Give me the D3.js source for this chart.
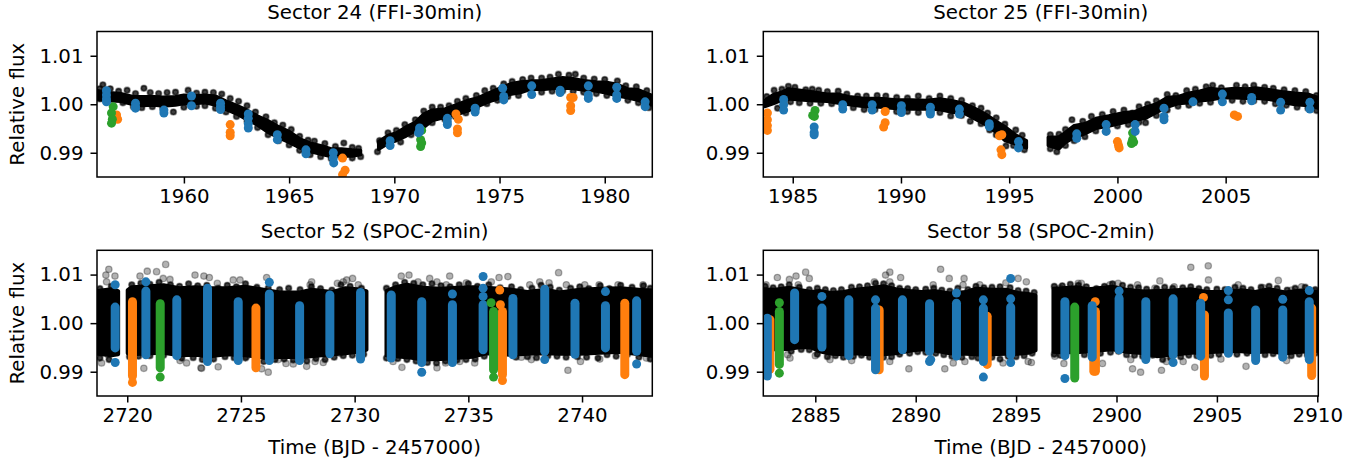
<!DOCTYPE html>
<html><head><meta charset="utf-8">
<script src="https://cdn.jsdelivr.net/npm/d3@7"></script>
<style>html,body{margin:0;padding:0;background:#fff}svg{display:block}text{font-family:"DejaVu Sans",sans-serif;fill:#000}</style>
</head><body><svg id="c" width="1365" height="463"></svg>
<script>
const titles=["Sector 24 (FFI-30min)","Sector 25 (FFI-30min)","Sector 52 (SPOC-2min)","Sector 58 (SPOC-2min)"];
const yTicks=[0.99,1.00,1.01];
const xTicks24=[1960,1965,1970,1975,1980], xTicks25=[1985,1990,1995,2000,2005];
const xTicks52=[2720,2725,2730,2735,2740], xTicks58=[2885,2890,2895,2900,2905,2910];

// dense light-curve core: [time, upper, lower]
const core24a=[[1955.87,1.0028,1.0010],[1956.5,1.0024,1.0007],[1957,1.0022,1.0006],[1957.6,1.0016,.9999],[1958,1.0016,.9997],[1958.6,1.0016,.9998],[1959,1.0015,.9996],[1959.6,1.0016,.9998],[1960,1.0019,1.0001],[1960.6,1.0018,1.0002],[1961,1.0019,1.0003],[1961.5,1.0017,.9998],[1962,1.0007,.9989],[1962.5,.9998,.9980],[1963,.9988,.9968],[1963.5,.9976,.9957],[1964,.9966,.9942],[1964.5,.9954,.9931],[1965,.9944,.9921],[1965.5,.9929,.9910],[1966,.9920,.9902],[1966.5,.9915,.9897],[1967,.9908,.9892],[1967.5,.9908,.9893],[1968,.9906,.9893],[1968.4,.9905,.9896]];
const core24b=[[1969.25,.9923,.9907],[1969.7,.9936,.9919],[1970.1,.9941,.9925],[1970.5,.9952,.9933],[1971,.9963,.9945],[1971.4,.9980,.9952],[1971.8,.9988,.9966],[1972.4,.9990,.9973],[1973,1.0000,.9979],[1973.5,1.0008,.9986],[1974,1.0014,.9996],[1974.5,1.0024,1.0005],[1975,1.0033,1.0012],[1975.5,1.0042,1.0020],[1976,1.0046,1.0024],[1976.5,1.0048,1.0031],[1977,1.0049,1.0030],[1977.5,1.0052,1.0032],[1978,1.0055,1.0033],[1978.5,1.0053,1.0032],[1979,1.0049,1.0029],[1979.6,1.0046,1.0027],[1980.1,1.0045,1.0023],[1980.6,1.0041,1.0017],[1981.1,1.0032,1.0013],[1981.6,1.0030,1.0008],[1982.26,1.0018,.9998]];
const core25a=[[1983.7,1.0008,.9995],[1984.1,1.0020,1.0001],[1984.5,1.0025,1.0008],[1984.8,1.0032,1.0011],[1985.3,1.0029,1.0009],[1986,1.0025,1.0007],[1986.6,1.0021,1.0006],[1987.1,1.0021,1.0002],[1987.6,1.0016,.9999],[1988.3,1.0012,.9995],[1989,1.0012,.9994],[1989.8,1.0009,.9991],[1990.5,1.0009,.9990],[1991.2,1.0008,.9990],[1991.8,1.0011,.9989],[1992.4,1.0007,.9983],[1992.9,1.0002,.9982],[1993.4,.9992,.9970],[1993.9,.9980,.9958],[1994.3,.9968,.9945],[1994.8,.9954,.9925],[1995.3,.9937,.9918],[1995.8,.9925,.9910]];
const core25b=[[1996.8,.9932,.9915],[1997.3,.9933,.9908],[1997.6,.9942,.9921],[1998,.9956,.9931],[1998.5,.9960,.9939],[1999,.9971,.9950],[1999.6,.9976,.9955],[2000.3,.9983,.9962],[2000.8,.9985,.9967],[2001.3,.9994,.9971],[2001.8,1.0001,.9983],[2002.3,1.0014,.9994],[2002.8,1.0016,1.0001],[2003.3,1.0023,1.0003],[2003.8,1.0027,1.0007],[2004.3,1.0033,1.0009],[2004.8,1.0030,1.0013],[2005.4,1.0033,1.0013],[2006,1.0032,1.0012],[2006.4,1.0034,1.0012],[2007,1.0030,1.0010],[2007.6,1.0026,1.0004],[2008.2,1.0023,.9999],[2008.8,1.0021,.9997],[2009.28,1.0014,.9992]];
const core52a=[[2718.67,1.0066,.9937],[2719.3,1.0070,.9934],[2719.6,1.0066,.9936]];
const core52b=[[2720.02,1.0068,.9938],[2720.2,1.0074,.9936],[2721,1.0076,.9938],[2721.6,1.0078,.9939],[2722.3,1.0072,.9934],[2723,1.0074,.9935],[2723.6,1.0072,.9932],[2724.4,1.0072,.9936],[2725.2,1.0075,.9934],[2726,1.0069,.9929],[2726.7,1.0063,.9931],[2727.6,1.0063,.9930],[2728.1,1.0069,.9932],[2729,1.0064,.9936],[2729.6,1.0072,.9938],[2730.1,1.0070,.9941],[2730.52,1.0066,.9945]];
const core52c=[[2731.4,1.0066,.9934],[2731.8,1.0074,.9932],[2732.3,1.0079,.9930],[2733,1.0073,.9925],[2733.8,1.0071,.9926],[2734.5,1.0073,.9929],[2735.2,1.0074,.9931],[2735.8,1.0073,.9938],[2736.9,1.0069,.9935],[2737.6,1.0064,.9937],[2738.4,1.0069,.9938],[2739,1.0063,.9937],[2739.9,1.0069,.9937],[2740.8,1.0071,.9939],[2741.7,1.0072,.9941],[2742.5,1.0069,.9936],[2743.09,1.0067,.9933]];
const core58a=[[2882.41,1.0070,.9945],[2883,1.0069,.9946],[2883.7,1.0073,.9947],[2884.3,1.0068,.9951],[2884.8,1.0064,.9950],[2885.2,1.0066,.9942],[2885.8,1.0062,.9937],[2886.4,1.0064,.9936],[2887,1.0069,.9938],[2887.7,1.0072,.9936],[2888.4,1.0076,.9936],[2889,1.0070,.9938],[2889.7,1.0066,.9943],[2890.3,1.0064,.9946],[2891,1.0066,.9943],[2891.7,1.0061,.9938],[2892.5,1.0064,.9937],[2893,1.0071,.9936],[2893.8,1.0069,.9936],[2894.5,1.0069,.9937],[2895.1,1.0062,.9937],[2895.6,1.0060,.9939],[2895.97,1.0057,.9944]];
const core58b=[[2896.86,1.0071,.9941],[2897.3,1.0072,.9940],[2898,1.0074,.9940],[2898.6,1.0070,.9942],[2899.8,1.0075,.9946],[2900.5,1.0069,.9941],[2901.4,1.0065,.9938],[2902,1.0066,.9932],[2902.8,1.0067,.9935],[2903.7,1.0070,.9939],[2904.5,1.0064,.9940],[2905.4,1.0064,.9942],[2906.2,1.0068,.9942],[2906.9,1.0064,.9940],[2907.6,1.0070,.9942],[2908.4,1.0063,.9938],[2909.2,1.0067,.9941],[2910.05,1.0064,.9943]];

// grey points crowding the band edges: [time, flux]
const edge24=[[1956,1.0032],[1956.15,1.004],[1956.5,1.0032],[1956.9,1.0027],[1957.3,1.0029],[1957.7,1.0022],[1958.1,1.0033],[1958.4,1.0024],[1958.8,1.0022],[1959.2,1.0024],[1959.6,1.0025],[1960.2,1.0029],[1960.6,1.0023],[1961,1.0025],[1961.4,1.0024],[1961.8,1.0021],[1962.2,1.0012],[1962.6,1.0006],[1963,.9997],[1963.4,.9984],[1963.9,.9974],[1964.3,.9962],[1964.7,.9957],[1965.1,.9948],[1965.5,.9934],[1965.9,.9926],[1966.2,.9924],[1966.7,.9919],[1967.2,.9913],[1967.6,.992],[1968,.9911],[1968.3,.9909],
[1956,1.0011],[1957.1,1.0003],[1957.6,.9995],[1958,.9993],[1958.5,.9995],[1959,.9992],[1959.5,.9984],[1960,.9994],[1960.6,.9996],[1961,.9997],[1961.5,.9992],[1962,.9984],[1962.5,.9975],[1963,.9965],[1963.5,.9952],[1964,.9937],[1964.5,.9925],[1965,.9916],[1965.5,.9905],[1966,.9896],[1966.5,.9892],[1967,.9888],[1967.5,.989],[1968,.9889],[1968.4,.9892],
[1969.3,.9925],[1969.7,.9941],[1970.1,.9946],[1970.5,.9958],[1971,.9968],[1971.4,.9986],[1971.8,.9994],[1972.2,.9994],[1972.6,.9997],[1973,1.0006],[1973.4,1.0012],[1973.9,1.0018],[1974.3,1.0028],[1974.7,1.0033],[1975.2,1.0042],[1975.6,1.0047],[1976.1,1.0051],[1976.5,1.0054],[1977,1.0054],[1977.4,1.0056],[1977.8,1.0062],[1978.3,1.006],[1978.6,1.0062],[1979,1.0054],[1979.5,1.0052],[1980,1.0051],[1980.6,1.0048],[1981,1.0038],[1981.5,1.0036],[1982,1.0028],
[1969.2,.9902],[1969.8,.9915],[1970.3,.9922],[1970.8,.9937],[1971.3,.9948],[1971.8,.9962],[1972.4,.9969],[1972.9,.9975],[1973.4,.9982],[1973.9,.9992],[1974.4,1.0001],[1974.9,1.0008],[1975.4,1.0016],[1975.9,1.0018],[1976.5,1.0027],[1977,1.0025],[1977.5,1.0027],[1978,1.0028],[1978.5,1.0027],[1979,1.0025],[1979.6,1.0022],[1980.1,1.0018],[1980.6,1.0012],[1981.1,1.0008],[1981.6,1.0003],[1982.1,.9993]];
const edge25=[[1983.8,1.0016],[1984.14,1.0029],[1984.5,1.0031],[1984.8,1.0037],[1985.1,1.0035],[1985.6,1.003],[1985.9,1.0031],[1986.2,1.0029],[1986.6,1.0026],[1987.1,1.0027],[1987.5,1.0021],[1988,1.0017],[1988.4,1.0017],[1988.9,1.0018],[1989.3,1.0017],[1989.8,1.0014],[1990.3,1.0013],[1990.8,1.0017],[1991.3,1.0012],[1991.8,1.0017],[1992.3,1.0012],[1992.8,1.0008],[1993.3,.9997],[1993.7,.9992],[1994,.9982],[1994.4,.9972],[1994.8,.9959],[1995.3,.9947],[1995.6,.9936],
[1984.3,.9992],[1984.9,1.0005],[1985.3,1.0003],[1985.8,1.0002],[1986.3,1.0002],[1986.8,1.0001],[1987.3,.9996],[1987.8,.9993],[1988.3,.9989],[1988.8,.9989],[1989.3,.9988],[1989.8,.9985],[1990.3,.9985],[1990.8,.9983],[1991.3,.9984],[1991.8,.9983],[1992.3,.9976],[1992.8,.9977],[1993.2,.9965],[1993.7,.996],[1994.1,.9947],[1994.4,.9937],[1994.85,.9914],[1995.2,.9915],[1995.7,.9906],
[1996.9,.9937],[1997.3,.9938],[1997.6,.9948],[1997.9,.9968],[1998.4,.9965],[1998.8,.9975],[1999.3,.9979],[1999.8,.9985],[2000.3,.9988],[2000.7,.9982],[2001,.9995],[2001.4,1],[2001.8,1.0007],[2002.3,1.002],[2002.7,1.0018],[2003.2,1.0028],[2003.6,1.0031],[2004.1,1.0036],[2004.4,1.0039],[2004.8,1.0034],[2005.5,1.0039],[2005.9,1.0036],[2006.3,1.0039],[2006.8,1.0035],[2007.2,1.0033],[2007.7,1.003],[2008.2,1.0028],[2008.7,1.0026],[2009.2,1.0018],
[1996.9,.9908],[1997.2,.9902],[1997.6,.9915],[1998,.9925],[1998.5,.9933],[1999,.9945],[1999.5,.9946],[2000,.9955],[2000.5,.9958],[2001,.9963],[2001.3,.9962],[2001.8,.9977],[2002.3,.9988],[2002.8,.9996],[2003.3,.9998],[2003.8,1.0002],[2004.3,1.0004],[2004.8,1.0008],[2005.3,1.0008],[2005.8,1.0006],[2006.3,1.0007],[2006.8,1.0006],[2007.3,1.0001],[2007.8,.9998],[2008.3,.9994],[2008.8,.9992],[2009.2,.9987]];
const edge52=[[2718.8,1.0071],[2719.3,1.0076],[2720.2,1.0079],[2720.6,1.0082],[2721,1.008],[2721.4,1.0084],[2721.9,1.0079],[2722.3,1.0076],[2722.7,1.0081],[2723.1,1.0077],[2723.5,1.0078],[2724,1.0072],[2724.4,1.0078],[2724.8,1.0075],[2725.2,1.0081],[2725.7,1.0074],[2726.2,1.0072],[2726.7,1.0069],[2727.1,1.0072],[2727.6,1.0069],[2728.1,1.0075],[2728.5,1.0071],[2729,1.0068],[2729.4,1.0079],[2729.8,1.0076],[2730.3,1.0072],[2731.4,1.0072],[2731.8,1.0079],[2732.2,1.0084],[2732.6,1.0082],[2733,1.0079],[2733.4,1.0081],[2733.8,1.0077],[2734.2,1.0075],[2734.6,1.0079],[2735,1.0081],[2735.4,1.0076],[2735.9,1.0079],[2736.4,1.0073],[2736.9,1.0075],[2737.3,1.0069],[2737.8,1.0072],[2738.2,1.0078],[2738.6,1.0074],[2739,1.0068],[2739.5,1.0072],[2739.9,1.0075],[2740.3,1.0071],[2740.8,1.0077],[2741.2,1.0071],[2741.7,1.0078],[2742.2,1.0074],[2742.7,1.0077],[2743,1.0072],
[2718.8,.9928],[2719.2,.9925],[2720.1,.9931],[2720.5,.9932],[2721,.9933],[2721.6,.9934],[2722.4,.9928],[2722.9,.9929],[2723.3,.9925],[2723.8,.9926],[2724.3,.9931],[2724.7,.9929],[2725.2,.9928],[2726,.9921],[2726.5,.9925],[2726.9,.9926],[2727.3,.9924],[2727.9,.9922],[2728.3,.9927],[2728.7,.9925],[2729.1,.993],[2729.5,.9933],[2729.9,.9934],[2730.4,.9936],[2731.4,.9928],[2731.9,.9927],[2732.3,.9925],[2732.7,.9922],[2733.2,.9919],[2733.6,.9918],[2734,.9922],[2734.5,.9924],[2734.9,.9925],[2735.3,.9926],[2735.7,.9932],[2737.1,.993],[2737.6,.9931],[2738,.9929],[2738.5,.9933],[2738.9,.9932],[2739.3,.993],[2739.8,.9931],[2740.2,.993],[2740.7,.9928],[2741.1,.9935],[2741.5,.9932],[2742,.9936],[2742.5,.993],[2743,.9926]];
const edge58=[[2882.5,1.0076],[2882.9,1.0073],[2883.3,1.0075],[2883.7,1.0079],[2884.2,1.0074],[2884.7,1.0069],[2885.1,1.0072],[2885.5,1.0069],[2885.9,1.0067],[2886.3,1.0069],[2886.8,1.0074],[2887.2,1.0075],[2887.6,1.0077],[2888,1.0082],[2888.4,1.0081],[2888.8,1.0077],[2889.2,1.0072],[2889.6,1.0071],[2890,1.0069],[2890.5,1.007],[2890.9,1.0072],[2891.3,1.0068],[2891.7,1.0066],[2892.1,1.0072],[2892.6,1.0069],[2893,1.0076],[2893.4,1.0073],[2893.8,1.0074],[2894.2,1.0075],[2894.7,1.0073],[2895.1,1.0067],[2895.5,1.0066],[2895.9,1.0063],[2896.9,1.0076],[2897.3,1.0077],[2897.7,1.008],[2898.1,1.0078],[2898.5,1.0075],[2899,1.0071],[2899.4,1.0076],[2899.8,1.0081],[2900.3,1.0078],[2900.7,1.0074],[2901.1,1.0073],[2901.5,1.007],[2902,1.0071],[2902.4,1.0074],[2902.8,1.0072],[2903.3,1.0073],[2903.7,1.0075],[2904.1,1.0071],[2904.5,1.0069],[2905,1.007],[2905.4,1.0069],[2905.9,1.0074],[2906.3,1.0072],[2906.7,1.0069],[2907.2,1.0074],[2907.6,1.0076],[2908,1.0072],[2908.5,1.0068],[2908.9,1.0072],[2909.4,1.0074],[2909.9,1.0069],
[2883.8,.9942],[2884.3,.9946],[2884.7,.9945],[2885.1,.9936],[2885.6,.9931],[2886,.9933],[2886.4,.993],[2886.9,.9932],[2887.3,.9934],[2887.7,.993],[2888.4,.993],[2888.8,.9931],[2889.2,.9936],[2889.7,.9938],[2890.1,.9941],[2890.5,.994],[2891,.9938],[2891.4,.9935],[2891.8,.9932],[2892.3,.993],[2892.8,.9931],[2893.1,.9928],[2893.8,.993],[2894.2,.9926],[2894.6,.9932],[2895,.9931],[2895.4,.9933],[2895.8,.9938],[2896.9,.9936],[2897.2,.9934],[2898.4,.9935],[2899.2,.9938],[2899.7,.994],[2900.1,.9942],[2900.5,.9935],[2900.9,.9934],[2901.3,.9932],[2901.8,.9934],[2902.3,.9925],[2902.7,.9928],[2903.2,.9931],[2903.6,.9934],[2904,.9933],[2904.7,.9934],[2905.1,.9936],[2905.6,.9938],[2906,.9936],[2906.5,.9938],[2906.9,.9934],[2907.4,.9935],[2907.8,.9937],[2908.3,.9931],[2908.7,.9933],[2909.1,.9936],[2909.5,.9935],[2909.9,.9938]];

// lone grey outliers: [time, flux]
const stray52=[[2719.19,1.0111],[2719.06,1.0099],[2719.46,1.0097],[2719.09,1.0085],[2721.69,1.0121],[2720.88,1.0107],[2720.56,1.0097],[2721.29,1.0106],[2721.58,1.0092],[2721.88,1.009],[2722.98,1.0099],[2723.37,1.0097],[2723.61,1.0094],[2723.96,1.0082],[2724.66,1.0089],[2724.96,1.0089],[2726.13,1.0094],[2728.11,1.0085],[2728.04,1.0079],[2729.5,1.0085],[2729.91,1.0092],[2729.65,1.0089],[2729.24,1.0082],[2730.16,1.0079],
[2720.73,.9907],[2723.24,.9908],[2723.27,.9907],[2724,.991],[2726.2,.9899],[2725.91,.9906],[2727.89,.9911],[2728.26,.9921],[2728.62,.9919],[2727.3,.9916],[2726.98,.9917],[2726.64,.9925],[2718.87,.9918],[2719.16,.9935],[2722.32,.9923],[2722.61,.9918],[2725.25,.9932],[2729.35,.9938],
[2732.05,1.0097],[2732.39,1.0099],[2732.79,1.0085],[2733.3,1.0092],[2733.62,1.0085],[2734.18,1.0097],[2734.03,1.0079],[2734.91,1.0083],[2736.01,1.0085],[2736.35,1.0094],[2736.74,1.0096],[2737.7,1.0079],[2738.14,1.0085],[2738.55,1.0083],[2738.97,1.0104],[2739.31,1.0079],[2740.12,1.0079],[2740.75,1.0079],[2741.58,1.0079],[2742.68,1.0079],
[2732.08,.9909],[2733.62,.9908],[2734,.9918],[2735.28,.9918],[2734.62,.9921],[2731.69,.9921],[2739.38,.9903],[2739.93,.9921],[2737.77,.9925],[2737.33,.993],[2740.78,.9926],[2742.83,.9928]];
const stray58=[[2883.11,1.0094],[2884.04,1.0097],[2884.52,1.0105],[2884.7,1.0092],[2883.71,1.009],[2884.15,1.0079],[2882.55,1.0079],[2888.71,1.0105],[2888.5,1.0099],[2889.25,1.0094],[2887.94,1.0085],[2890.87,1.0079],[2891.24,1.0111],[2891.67,1.0092],[2892.41,1.0092],[2892.36,1.0079],[2893.19,1.0079],[2895.1,1.0092],[2894.49,1.0083],[2888.71,1.0085],[2889.66,.9906],[2891.45,.9906],[2891.87,.9918],[2892.45,.9921],[2894.35,.9918],[2883.62,.9935],[2883.74,.9928],[2885,.9933],[2885.73,.9925],[2886.81,.9923],[2888.71,.9921],[2895.6,.9921],
[2895.51,1.0085],[2898.09,1.0082],[2898.25,1.0082],[2899.67,1.0079],[2900.08,1.0082],[2901.05,1.0079],[2902.16,1.0087],[2901.91,1.0072],[2902.87,1.0075],[2903.7,1.0115],[2904.57,1.0118],[2904.58,1.0089],[2906.06,1.0079],[2908.06,1.0088],[2907.31,1.0073],[2908.72,1.0068],[2909.88,1.0065],[2909.22,1.0075],[2897.18,1.0072],
[2895.76,.9919],[2897.38,.9917],[2899.3,.9917],[2900.8,.9906],[2901.2,.9899],[2902.24,.9903],[2902.49,.9921],[2903.9,.9909],[2903.32,.9921],[2905.2,.9926],[2906.45,.9911],[2908.47,.9923],[2900.71,.9925],[2896.93,.9932]];

// transit points of the three planets: [time, flux]
const blue24=[[1956.32,1.0028],[1956.32,1.0019],[1956.32,1.0011],[1956.32,1.0005],[1957.7,1.0002],[1957.7,.9995],[1957.7,.9992],[1959.05,.9988],[1959.05,.9982],[1960.36,1.0017],[1960.36,.9997],[1961.74,1.0002],[1961.74,.9995],[1961.74,.9989],[1963.06,.998],[1963.06,.9971],[1963.06,.996],[1963.06,.9951],[1964.44,.9937],[1964.44,.9927],[1965.8,.9906],[1965.8,.9898],[1967.1,.99],[1967.1,.9889],[1967.12,.9879],[1969.8,.9925],[1969.8,.9915],[1971.2,.9951],[1971.2,.9944],[1971.15,.9941],[1972.52,.9971],[1972.52,.9964],[1972.52,.9958],[1973.84,.9992],[1973.84,.9984],[1975.15,1.0033],[1975.2,1.0016],[1975.2,1.0009],[1976.53,1.0038],[1976.53,1.002],[1977.88,1.0029],[1977.88,1.0024],[1979.22,1.0038],[1979.22,1.0019],[1979.22,1.0012],[1980.57,1.0035],[1980.57,1.0019],[1980.57,1.0012],[1981.92,1.0005],[1981.92,.9995]];
const orange24=[[1956.8,.9978],[1956.85,.9969],[1962.2,.9958],[1962.2,.9942],[1962.2,.9935],[1967.54,.9889],[1967.66,.9864],[1967.54,.9855],[1972.93,.998],[1973.04,.9969],[1973,.9949],[1973,.9941],[1978.38,1.0014],[1978.5,1.0014],[1978.38,.9997],[1978.38,.9987]];
const green24=[[1956.64,.9995],[1956.56,.9982],[1956.6,.9969],[1956.56,.9961],[1971.3,.9946],[1971.25,.9927],[1971.3,.992],[1971.25,.9913]];
const blue25=[[1984.58,1.001],[1984.58,.9999],[1984.58,.9988],[1985.99,.9953],[1985.99,.9942],[1985.99,.9937],[1987.31,.9999],[1987.31,.999],[1988.67,.9999],[1988.67,.9988],[1990.02,.9997],[1990.02,.9988],[1990.02,.9983],[1991.36,.9994],[1991.36,.9985],[1991.36,.998],[1992.7,.999],[1992.7,.998],[1994.08,.996],[1994.08,.9954],[1995.43,.9923],[1995.43,.991],[1998.12,.9939],[1998.12,.993],[1999.48,.9958],[1999.48,.9944],[2000.82,.9958],[2000.82,.9944],[2002.15,.9992],[2002.15,.9975],[2002.15,.9968],[2003.49,1.0005],[2004.85,1.0021],[2004.85,1.0005],[2006.2,1.0014],[2006.2,1.0007],[2007.54,1.0004],[2007.54,.9988],[2008.89,1.0004],[2008.89,.999]];
const orange25=[[1983.83,.9982],[1983.83,.9968],[1983.83,.9956],[1983.83,.9946],[1989.27,.9985],[1989.27,.9962],[1989.2,.9953],[1994.66,.9937],[1994.55,.9935],[1994.62,.9906],[1994.66,.9896],[2000,.9923],[2000.05,.9915],[2000.08,.991],[2005.4,.9978],[2005.55,.9975]];
const green25=[[1986.03,.9987],[1985.92,.9977],[1986,.9975],[2000.7,.9941],[2000.7,.9927],[2000.75,.9922],[2000.65,.9919]];

// transit columns [time, top flux, bottom flux] and lone points [time, flux]
const blueCols52=[[2719.47,1.0033,.9949],[2720.82,1.0066,.9935],[2722.18,1.0048,.9933],[2723.53,1.0072,.9921],[2724.88,1.0044,.9923],[2726.25,1.006,.9923],[2727.58,1.0036,.9923],[2728.91,1.0058,.9937],[2730.26,1.0063,.9926],[2731.61,1.0058,.9928],[2732.95,1.0044,.9919],[2734.3,1.0038,.9919],[2735.65,1.0038,.9945],[2736.96,1.0051,.9935],[2738.36,1.007,.9942],[2739.69,1.0041,.9936],[2741.03,1.0036,.9949],[2742.4,1.0046,.9942]];
const blueDots52=[[2719.47,1.0079],[2719.47,.9919],[2720.82,1.0085],[2726.25,1.0084],[2732.95,.9899],[2734.3,1.006],[2735.65,1.0096],[2735.65,1.0072],[2735.65,1.0055],[2738.36,.9925],[2741.03,1.0065],[2742.4,.9916]];
const orangeCols52=[[2720.23,1.0044,.9891],[2725.66,1.0031,.9908],[2736.5,1.0024,.9894],[2741.88,1.0041,.9894]];
const orangeDots52=[[2720.23,.9878],[2736.38,1.0068],[2736.41,1.0038],[2736.5,.9882]];
const greenCols52=[[2721.45,1.004,.9908],[2736.11,1.0024,.9904]];
const greenDots52=[[2721.45,.9889],[2736,1.0042],[2736.11,.9889]];
const blueCols58=[[2882.61,1.001,.9891],[2883.97,1.0062,.9966],[2885.33,1.0031,.9951],[2886.67,1.0048,.9933],[2888,1.0031,.9904],[2889.34,1.0048,.9945],[2890.69,1.004,.9942],[2892.03,1.0041,.9932],[2893.37,1.0031,.9921],[2894.73,1.0033,.9935],[2897.43,1.0044,.9933],[2898.79,1.0036,.993],[2900.13,1.0051,.9945],[2901.46,1.0044,.9925],[2902.82,1.005,.9935],[2904.19,1.0041,.9932],[2905.57,1.0021,.9938],[2906.93,1.0027,.9923],[2908.28,1.0027,.993],[2909.6,1.0044,.9925]];
const blueDots58=[[2885.33,1.0055],[2888,1.0048],[2890.69,.9921],[2890.75,.9925],[2892.03,1.0062],[2893.37,1.0048],[2893.37,.9889],[2894.73,1.0092],[2894.73,1.005],[2894.73,.9919],[2897.43,.9886],[2900.13,1.0066],[2902.82,.9919],[2905.57,1.0067],[2905.57,1.0048],[2908.28,1.0049],[2909.6,1.0067]];
const orangeCols58=[[2882.74,1.0007,.9905],[2888.18,1.0027,.9904],[2893.56,1.0014,.9915],[2898.95,1.0024,.9901],[2898.87,.9935,.9901],[2904.38,1.0017,.9891],[2909.72,1.0031,.9892]];
const orangeDots58=[[2898.94,1.0044],[2904.33,1.0053]];
const greenCols58=[[2883.21,1.0024,.9915],[2897.92,1.0033,.9887]];
const greenDots58=[[2883.21,1.0042],[2883.21,.9897]];

const panels=[
 {title:titles[0],xd:[1955.87,1982.26],box:[97,31.5,652.3,177],xt:xTicks24,core:[core24a,core24b],sw:3.2,edge:edge24,stray:[],layers:[[orange24,[],"#ff7f0e"],[green24,[],"#2ca02c"],[blue24,[],"#1f77b4"]],yl:true},
 {title:titles[1],xd:[1983.64,2009.28],box:[763.3,31.5,1318.3,177],xt:xTicks25,core:[core25a,core25b],sw:3.2,edge:edge25,stray:[],layers:[[orange25,[],"#ff7f0e"],[green25,[],"#2ca02c"],[blue25,[],"#1f77b4"]]},
 {title:titles[2],xd:[2718.67,2743.09],box:[97,250.3,652.3,396],xt:xTicks52,core:[core52a,core52b,core52c],sw:4,edge:edge52,stray:stray52,layers:[[orangeDots52,orangeCols52,"#ff7f0e"],[blueDots52,blueCols52,"#1f77b4"],[greenDots52,greenCols52,"#2ca02c"]],yl:true,xl:true},
 {title:titles[3],xd:[2882.41,2910.05],box:[763.3,250.3,1318.3,396],xt:xTicks58,core:[core58a,core58b],sw:4,edge:edge58,stray:stray58,layers:[[orangeDots58,orangeCols58,"#ff7f0e"],[blueDots58,blueCols58,"#1f77b4"],[greenDots58,greenCols58,"#2ca02c"]],xl:true}
];
const FS=19.8, R=4.5;
const svg=d3.select("#c");
panels.forEach((p,i)=>{
  const [L,T,Rt,B]=p.box;
  const x=d3.scaleLinear().domain(p.xd).range([L,Rt]);
  const y=d3.scaleLinear().domain([0.985,1.015]).range([B,T]);
  const id="clip"+i;
  svg.append("clipPath").attr("id",id).append("rect").attr("x",L).attr("y",T).attr("width",Rt-L).attr("height",B-T);
  const g=svg.append("g").attr("clip-path",`url(#${id})`);
  const area=d3.area().x(d=>x(d[0])).y0(d=>y(d[2])).y1(d=>y(d[1]));
  p.core.forEach(c=>g.append("path").attr("d",area(c)).attr("fill","#000").attr("stroke","#000").attr("stroke-width",p.sw).attr("stroke-linejoin","round"));
  const grey=(sel,data,r,op)=>sel.append("g").selectAll("circle").data(data).join("circle")
    .attr("cx",d=>x(d[0])).attr("cy",d=>y(d[1])).attr("r",r)
    .attr("fill","#000").attr("fill-opacity",op).attr("stroke","#000").attr("stroke-opacity",op).attr("stroke-width",1.3);
  grey(g,p.stray,3.2,.3);
  grey(g,p.edge,3.2,.3);
  grey(g,p.edge,2.4,.65);
  p.layers.forEach(([dots,cols,color])=>{
    g.append("g").selectAll("line").data(cols).join("line")
      .attr("x1",d=>x(d[0])).attr("x2",d=>x(d[0])).attr("y1",d=>y(d[1])).attr("y2",d=>y(d[2]))
      .attr("stroke",color).attr("stroke-width",R*2).attr("stroke-linecap","round");
    g.append("g").selectAll("circle").data(dots).join("circle")
      .attr("cx",d=>x(d[0])).attr("cy",d=>y(d[1])).attr("r",R).attr("fill",color);
  });
  const ax=svg.append("g").attr("transform",`translate(0,${B})`)
    .call(d3.axisBottom(x).tickValues(p.xt).tickFormat(d3.format("d")).tickSize(6.5).tickPadding(5));
  const ay=svg.append("g").attr("transform",`translate(${L},0)`)
    .call(d3.axisLeft(y).tickValues(yTicks).tickFormat(d3.format(".2f")).tickSize(6.5).tickPadding(7));
  [ax,ay].forEach(a=>{
    a.select(".domain").remove();
    a.attr("font-family",null).attr("font-size",null);
    a.selectAll("line").attr("stroke","#000").attr("stroke-width",1.5);
    a.selectAll("text").style("font-size",FS+"px").style("font-family",'"DejaVu Sans"').attr("fill","#000");
  });
  svg.append("rect").attr("x",L).attr("y",T).attr("width",Rt-L).attr("height",B-T)
    .attr("fill","none").attr("stroke","#000").attr("stroke-width",1.5);
  svg.append("text").attr("x",(L+Rt)/2).attr("y",T-12.5).attr("text-anchor","middle").style("font-size",FS+"px").text(p.title);
  if(p.yl) svg.append("text").attr("transform",`translate(23.5,${(T+B)/2}) rotate(-90)`).attr("text-anchor","middle").style("font-size",FS+"px").text("Relative flux");
  if(p.xl) svg.append("text").attr("x",(L+Rt)/2).attr("y",B+58).attr("text-anchor","middle").style("font-size",FS+"px").text("Time (BJD - 2457000)");
});
</script></body></html>
